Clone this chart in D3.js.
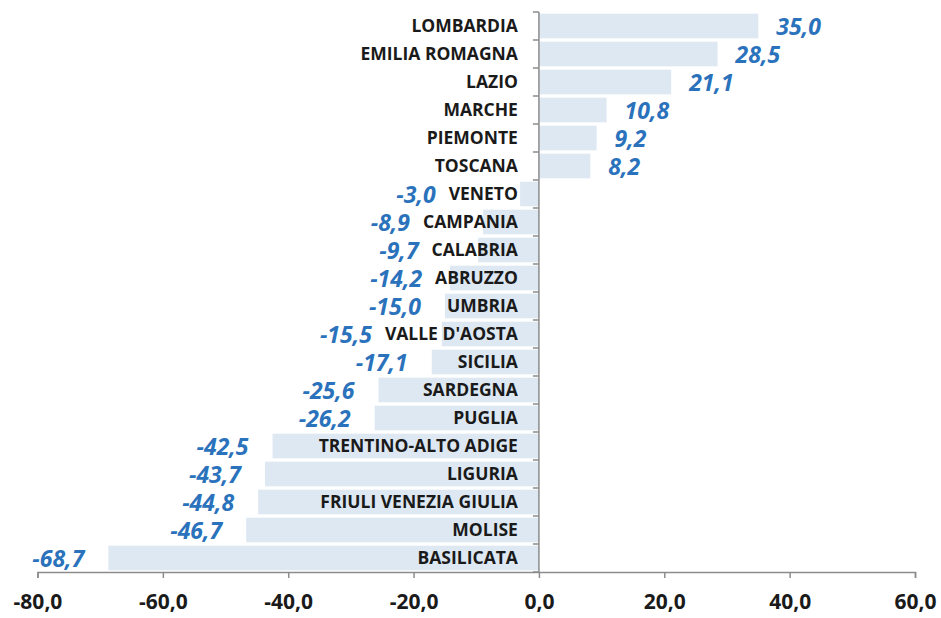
<!DOCTYPE html>
<html>
<head>
<meta charset="utf-8">
<script src="https://cdn.jsdelivr.net/npm/d3@7"></script>
<style>
  body { margin: 0; background: #fff; }
  svg { display: block; }
  .cat-label { font-family: "Open Sans", sans-serif; font-weight: 700; font-size: 17.5px; fill: #1a1a1a; }
  .val-label { font-family: "Open Sans", sans-serif; font-weight: 700; font-style: italic; font-size: 23px; fill: #2a72bb; }
  .x-axis text { font-family: "Open Sans", sans-serif; font-weight: 700; font-size: 21px; fill: #1a1a1a; }
</style>
</head>
<body>
<div id="chart"></div>
<script>
// data
const regions = ["LOMBARDIA", "EMILIA ROMAGNA", "LAZIO", "MARCHE", "PIEMONTE", "TOSCANA",
    "VENETO", "CAMPANIA", "CALABRIA", "ABRUZZO", "UMBRIA", "VALLE D'AOSTA", "SICILIA",
    "SARDEGNA", "PUGLIA", "TRENTINO-ALTO ADIGE", "LIGURIA", "FRIULI VENEZIA GIULIA",
    "MOLISE", "BASILICATA"];
const values = [35.0, 28.5, 21.1, 10.8, 9.2, 8.2, -3.0, -8.9, -9.7, -14.2, -15.0, -15.5,
    -17.1, -25.6, -26.2, -42.5, -43.7, -44.8, -46.7, -68.7];
const xTicks = [-80, -60, -40, -20, 0, 20, 40, 60];

const width = 941;
const height = 618;
const barColor = "#dde8f3";
const axisColor = "#8c8c8c";

const data = regions.map((r, i) => ({ region: r, value: values[i] }));
const fmt = v => d3.format(".1f")(v).replace(".", ",").replace("−", "-");

const svg = d3.select("#chart")
    .append("svg")
    .attr("width", width)
    .attr("height", height);

const xScale = d3.scaleLinear()
    .domain([-80, 60])
    .range([37.5, 915]);

const yScale = d3.scaleBand()
    .domain(regions)
    .range([12, 572])
    .paddingInner(0.12)
    .paddingOuter(0.06);

const step = yScale.step();
const x0 = xScale(0);

// bars
svg.selectAll(".bar")
    .data(data)
    .join("rect")
    .attr("class", "bar")
    .attr("x", d => Math.min(xScale(d.value), x0))
    .attr("y", d => yScale(d.region))
    .attr("width", d => Math.abs(xScale(d.value) - x0))
    .attr("height", yScale.bandwidth())
    .attr("fill", barColor);

// x axis
const xAxis = svg.append("g")
    .attr("class", "x-axis")
    .attr("transform", "translate(0, 572)")
    .call(d3.axisBottom(xScale).tickValues(xTicks).tickSize(6).tickPadding(12).tickFormat(fmt));
xAxis.select(".domain").attr("stroke", axisColor).attr("stroke-width", 1.5);
xAxis.selectAll(".tick line").attr("stroke", axisColor).attr("stroke-width", 1.5);
xAxis.selectAll("text").attr("dy", "0.9em");

// y axis at zero with category ticks
const yAxis = svg.append("g").attr("class", "y-axis");
yAxis.append("line")
    .attr("x1", x0).attr("x2", x0)
    .attr("y1", 12).attr("y2", 572)
    .attr("stroke", axisColor)
    .attr("stroke-width", 1.5);
yAxis.selectAll(".ytick")
    .data(d3.range(regions.length + 1))
    .join("line")
    .attr("class", "ytick")
    .attr("x1", x0 - 6).attr("x2", x0)
    .attr("y1", i => 12 + i * step)
    .attr("y2", i => 12 + i * step)
    .attr("stroke", axisColor)
    .attr("stroke-width", 1.5);

// category labels, right aligned next to the axis
const catLabels = svg.selectAll(".cat-label")
    .data(data)
    .join("text")
    .attr("class", "cat-label")
    .attr("x", x0 - 21)
    .attr("y", d => yScale(d.region) + yScale.bandwidth() / 2)
    .attr("dy", "0.36em")
    .attr("text-anchor", "end")
    .text(d => d.region);

const catStart = {};
catLabels.each(function (d) {
    catStart[d.region] = x0 - 21 - this.getComputedTextLength();
});

// value labels
svg.selectAll(".val-label")
    .data(data)
    .join("text")
    .attr("class", "val-label")
    .attr("x", d => d.value >= 0
        ? xScale(d.value) + 18
        : Math.min(xScale(d.value) - 24, catStart[d.region] - 13))
    .attr("y", d => yScale(d.region) + yScale.bandwidth() / 2)
    .attr("dy", "0.38em")
    .attr("text-anchor", d => d.value >= 0 ? "start" : "end")
    .text(d => fmt(d.value));
</script>
</body>
</html>
